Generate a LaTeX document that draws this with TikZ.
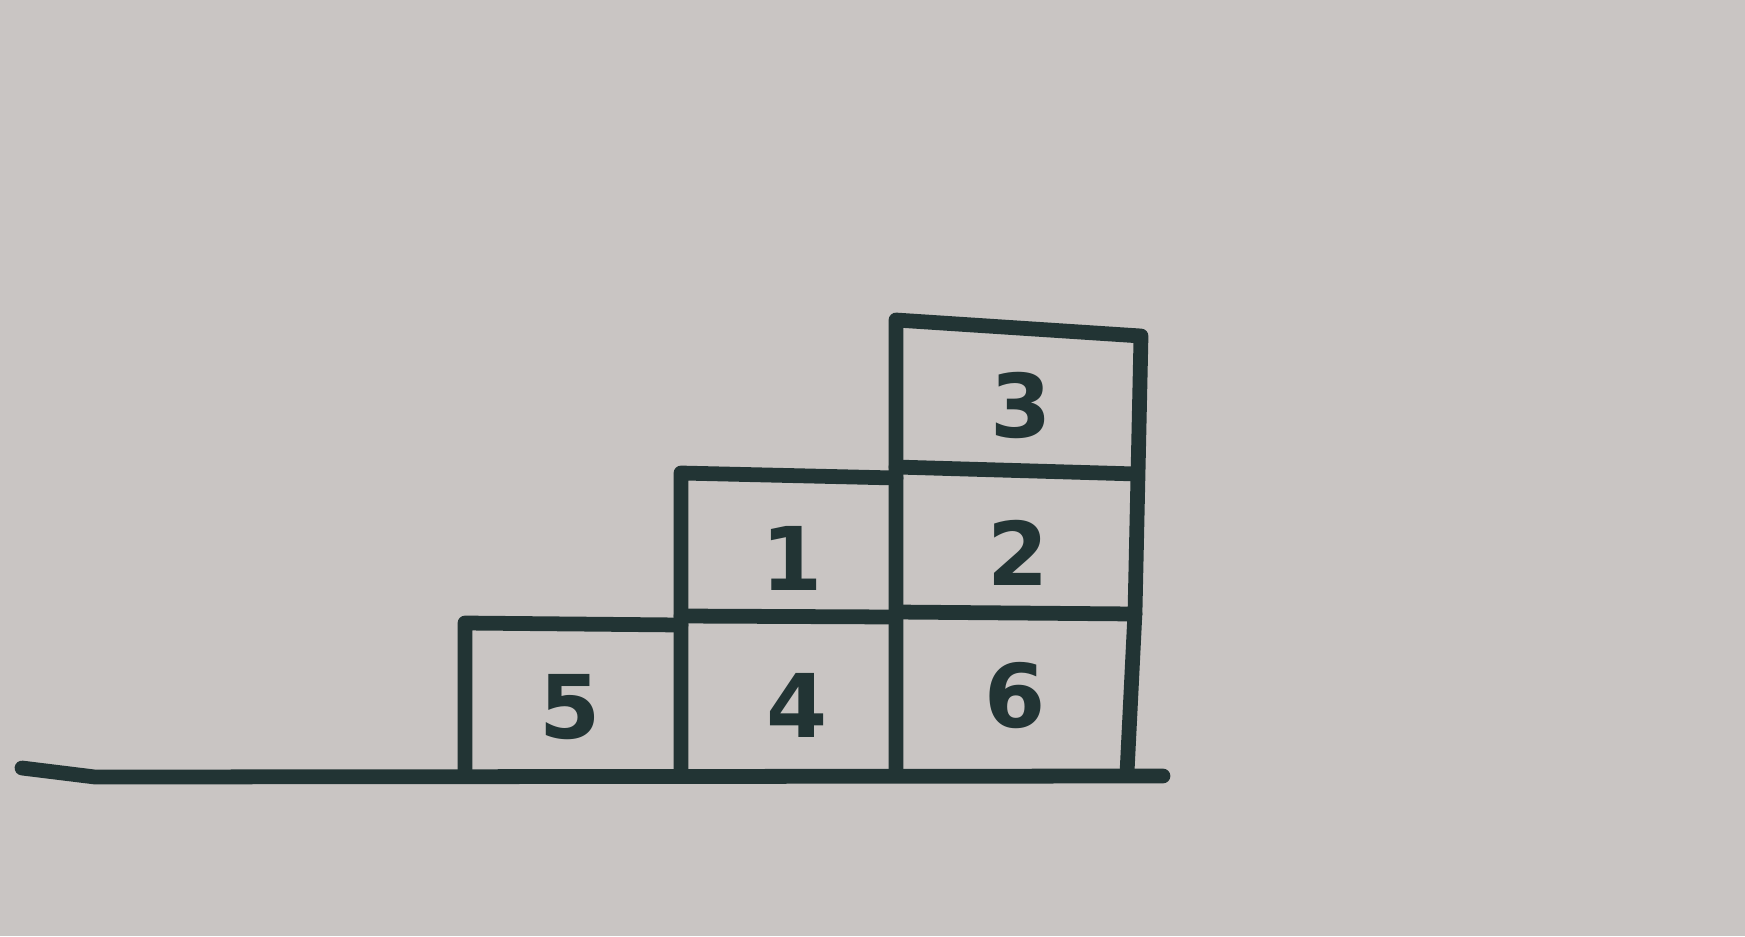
\documentclass[tikz,border=0pt]{standalone}
\usepackage{fontspec}
\setmainfont{DejaVu Sans}
\usepackage{tikz}
\definecolor{paper}{RGB}{201,197,195}
\definecolor{ink}{RGB}{34,52,52}
\tikzstyle{pen}=      [draw=ink,line width=4.2pt,line join=round,line cap=round]
\tikzstyle{digit}=    [text=ink,font=\fontsize{25}{28}\selectfont\bfseries]

\begin{document}
\begin{tikzpicture}[x=0.01cm,y=-0.01cm]
 \fill[paper] (0,0) rectangle (1745,936);
 \useasboundingbox (0,0) rectangle (1745,936);
 % ground
 \draw[pen] (22,768) -- (95,777) -- (1163,776);
 % column of 5
 \draw[pen] (465,771) -- (465,623) -- (681,625);
 % column of 4 and 1
 \draw[pen] (681,770) -- (681,473) -- (896,478);
 \draw[pen] (681,616) -- (896,617);
 % column of 6, 2 and 3
 \draw[pen] (896,773) -- (896,320) -- (1141,336) -- (1135,612) -- (1127,773);
 \draw[pen] (896,467) -- (1137,474);
 \draw[pen] (896,612) -- (1135,614);
 % labels
 \node[digit] (five)  at (570,707) {5};
 \node[digit] (four)  at (797,705) {4};
 \node[digit] (six)   at (1015,696) {6};
 \node[digit] (one)   at (792,558) {1};
 \node[digit] (two)   at (1018,553) {2};
 \node[digit] (three) at (1021,405) {3};
\end{tikzpicture}
\end{document}
